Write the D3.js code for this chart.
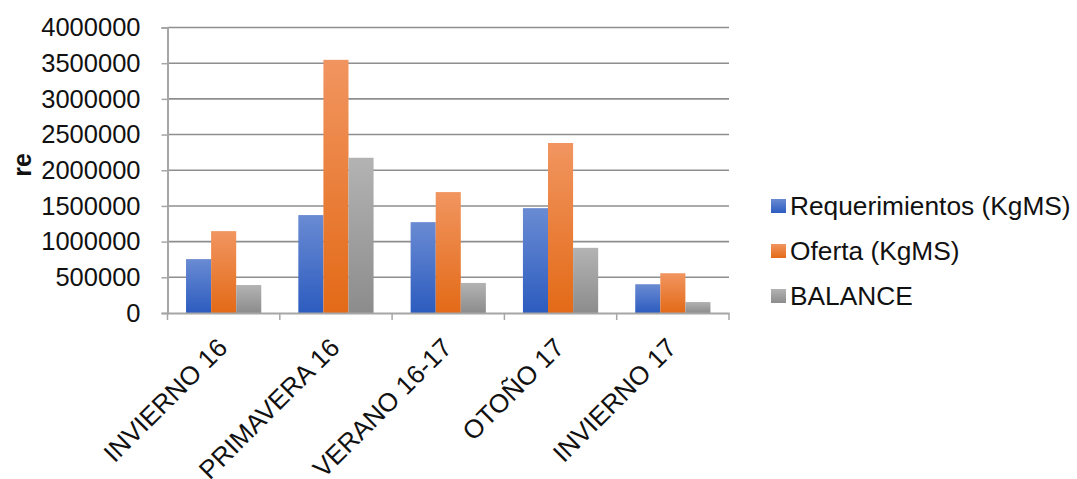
<!DOCTYPE html>
<html>
<head>
<meta charset="utf-8">
<script src="https://cdn.jsdelivr.net/npm/d3@7"></script>
<style>
  html, body { margin: 0; padding: 0; background: #fff; }
  svg { display: block; font-family: "Liberation Sans", Arial, sans-serif; }
</style>
</head>
<body>
<svg id="chart" width="1077" height="479"></svg>
<script>
// Seasonal forage balance (KgMS)
const categories = ["INVIERNO 16", "PRIMAVERA 16", "VERANO 16-17", "OTOÑO 17", "INVIERNO 17"];
const seriesNames = ["Requerimientos (KgMS)", "Oferta (KgMS)", "BALANCE"];
const requerimientos = [755000, 1372000, 1273000, 1469000, 403000];
const oferta = [1147000, 3547000, 1694000, 2382000, 557000];
const balance = [392000, 2175000, 421000, 913000, 154000];
const yTicks = [0, 500000, 1000000, 1500000, 2000000, 2500000, 3000000, 3500000, 4000000];
const yTitle = "re";

const seriesValues = [requerimientos, oferta, balance];
const gradients = [
  { id: "gBlue", top: "#6a8bd3", bottom: "#2c5cbf" },
  { id: "gOrange", top: "#f19560", bottom: "#e36a17" },
  { id: "gGray", top: "#b3b3b3", bottom: "#8c8c8c" }
];

const svg = d3.select("#chart");
const plot = { left: 167.5, right: 729, top: 27.5, bottom: 313 };

const defs = svg.append("defs");
gradients.forEach(g => {
  const lg = defs.append("linearGradient")
    .attr("id", g.id).attr("x1", 0).attr("y1", 0).attr("x2", 0).attr("y2", 1);
  lg.append("stop").attr("offset", "0%").attr("stop-color", g.top);
  lg.append("stop").attr("offset", "100%").attr("stop-color", g.bottom);
});

const x = d3.scaleBand().domain(categories).range([plot.left, plot.right]).paddingInner(0).paddingOuter(0);
const y = d3.scaleLinear().domain([0, 4000000]).range([plot.bottom, plot.top]);
const groupPad = 0.33;
const xInner = d3.scaleBand().domain(d3.range(seriesNames.length))
  .range([x.bandwidth() * groupPad / 2, x.bandwidth() * (1 - groupPad / 2)]).padding(0);

// Gridlines
svg.append("g")
  .selectAll("line")
  .data(yTicks.filter(t => t > 0))
  .join("line")
  .attr("x1", plot.left).attr("x2", plot.right)
  .attr("y1", d => y(d)).attr("y2", d => y(d))
  .attr("stroke", "#8e8e8e").attr("stroke-width", 1.6);

// Bars
const groups = svg.append("g")
  .selectAll("g")
  .data(categories)
  .join("g")
  .attr("transform", d => `translate(${x(d)},0)`);

groups.selectAll("rect")
  .data((c, i) => seriesValues.map((vals, s) => ({ s, v: vals[i] })))
  .join("rect")
  .attr("x", d => xInner(d.s))
  .attr("width", xInner.bandwidth())
  .attr("y", d => y(d.v))
  .attr("height", d => y(0) - y(d.v))
  .attr("fill", d => `url(#${gradients[d.s].id})`);

// Y axis
const yAxis = svg.append("g")
  .attr("transform", `translate(${plot.left},0)`)
  .call(d3.axisLeft(y).tickValues(yTicks).tickFormat(d3.format("d")).tickSize(6).tickPadding(21));
yAxis.select(".domain").attr("stroke", "#a6a6a6").attr("stroke-width", 2);
yAxis.selectAll(".tick line").attr("stroke", "#a6a6a6").attr("stroke-width", 1.5);
yAxis.selectAll(".tick text")
  .attr("font-size", 25.5).attr("fill", "#111").attr("font-family", "Liberation Sans, Arial, sans-serif");

// X axis
const xAxis = svg.append("g")
  .attr("transform", `translate(0,${plot.bottom})`)
  .call(d3.axisBottom(x).tickSize(0).tickPadding(0));
xAxis.select(".domain").attr("stroke", "#a6a6a6").attr("stroke-width", 2);
xAxis.selectAll(".tick text").remove();
xAxis.append("g")
  .selectAll("line")
  .data(d3.range(categories.length + 1))
  .join("line")
  .attr("x1", i => plot.left + i * x.step())
  .attr("x2", i => plot.left + i * x.step())
  .attr("y1", 0).attr("y2", 7)
  .attr("stroke", "#a6a6a6").attr("stroke-width", 1.5);

xAxis.selectAll(".tick")
  .append("text")
  .text(d => d)
  .attr("font-size", 26)
  .attr("fill", "#111")
  .attr("font-family", "Liberation Sans, Arial, sans-serif")
  .attr("text-anchor", "end")
  .attr("transform", "translate(-8,23) rotate(-45)")
  .attr("dy", "0.72em");

// Y title
svg.append("text")
  .attr("transform", `translate(31,165) rotate(-90)`)
  .attr("text-anchor", "middle")
  .attr("font-size", 25)
  .attr("font-weight", "bold")
  .attr("fill", "#111")
  .text(yTitle);

// Legend
const legend = svg.append("g").attr("transform", "translate(771,206)");
const items = legend.selectAll("g")
  .data(seriesNames)
  .join("g")
  .attr("transform", (d, i) => `translate(0,${i * 45})`);
items.append("rect")
  .attr("x", 0).attr("y", -7).attr("width", 15).attr("height", 14)
  .attr("fill", (d, i) => `url(#${gradients[i].id})`);
items.append("text")
  .attr("x", 19).attr("y", 0).attr("dy", "0.36em")
  .attr("font-size", 26.3).attr("fill", "#111")
  .text(d => d);
</script>
</body>
</html>
